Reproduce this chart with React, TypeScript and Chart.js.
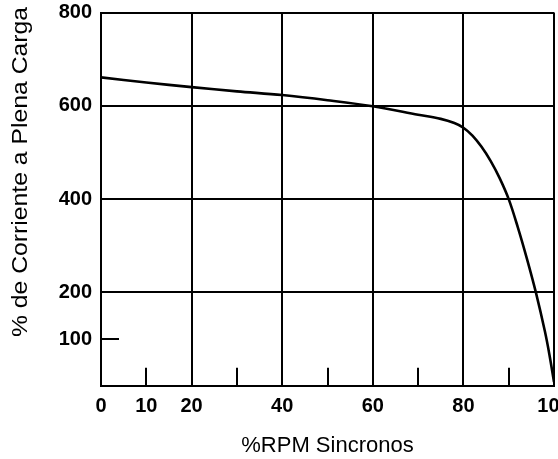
import React, { useEffect, useRef } from "react";
import { Chart, registerables } from "chart.js";

Chart.register(...registerables);

// ---- data ----
const rpm = [0, 10, 20, 30, 40, 50, 60, 70, 75, 78, 80, 82, 84, 86, 88, 90, 92, 94, 96, 98, 99, 100];
const current = [661, 650, 640, 631, 623, 612, 599, 581, 572, 563, 553, 536, 512, 482, 445, 400, 340, 273, 200, 116, 66, 8];

const xTickValues = [0, 10, 20, 40, 60, 80, 100];
const xGridValues = [20, 40, 60, 80, 100];
const xMinorTicks = [10, 30, 50, 70, 90];
const yTickValues = [100, 200, 400, 600, 800];
const yGridValues = [200, 400, 600, 800];
const yMinorTicks = [100];

const xTitle = "%RPM Sincronos";
const yTitle = "% de Corriente a Plena Carga";

const FONT = "'Liberation Sans', Arial, Helvetica, sans-serif";

export default function App() {
  const ref = useRef<HTMLCanvasElement | null>(null);

  useEffect(() => {
    if (!ref.current) return;

    const extras = {
      id: "extras",
      afterDraw(chart: any) {
        const { ctx, chartArea, scales } = chart;
        ctx.save();
        ctx.strokeStyle = "#000";
        ctx.lineWidth = 2;
        ctx.beginPath();
        xMinorTicks.forEach((v) => {
          const x = Math.round(scales.x.getPixelForValue(v));
          ctx.moveTo(x, chartArea.bottom);
          ctx.lineTo(x, chartArea.bottom - 18);
        });
        ctx.stroke();
        ctx.lineWidth = 2;
        ctx.beginPath();
        yMinorTicks.forEach((v) => {
          const y = Math.round(scales.y.getPixelForValue(v));
          ctx.moveTo(chartArea.left, y);
          ctx.lineTo(chartArea.left + 18, y);
        });
        ctx.stroke();

        // y axis title
        ctx.translate(21, 172);
        ctx.rotate(-Math.PI / 2);
        ctx.font = `22px ${FONT}`;
        const w = ctx.measureText(yTitle).width;
        ctx.scale(330 / w, 1);
        ctx.fillStyle = "#000";
        ctx.textAlign = "center";
        ctx.textBaseline = "middle";
        ctx.fillText(yTitle, 0, 0);
        ctx.restore();
      },
    };

    const chart = new Chart(ref.current, {
      type: "line",
      data: {
        datasets: [
          {
            data: rpm.map((x, i) => ({ x, y: current[i] })),
            borderColor: "#000",
            borderWidth: 2.6,
            pointRadius: 0,
            fill: false,
            tension: 0.35,
          },
        ],
      },
      options: {
        animation: false,
        responsive: false,
        devicePixelRatio: 1,
        layout: { padding: { top: 12.5, right: 4, bottom: 0, left: 0 } },
        plugins: { legend: { display: false }, tooltip: { enabled: false } },
        scales: {
          x: {
            type: "linear",
            min: 0,
            max: 100,
            afterBuildTicks: (s: any) => {
              s.ticks = xTickValues.map((v) => ({ value: v }));
            },
            afterFit: (s: any) => {
              s.height = 73.3;
              s.paddingLeft = 0;
              s.paddingRight = 0;
            },
            ticks: {
              autoSkip: false,
              maxRotation: 0,
              padding: 9,
              color: "#000",
              font: { family: FONT, size: 20, weight: "bold" },
            },
            grid: {
              drawTicks: false,
              color: (c: any) => (c.tick && xGridValues.includes(c.tick.value) ? "#000" : "rgba(0,0,0,0)"),
              lineWidth: 2,
            },
            border: { display: true, color: "#000", width: 2 },
            title: {
              display: true,
              text: xTitle,
              color: "#000",
              padding: 0,
              font: { family: FONT, size: 22 },
            },
          },
          y: {
            type: "linear",
            min: 0,
            max: 800,
            afterBuildTicks: (s: any) => {
              s.ticks = yTickValues.map((v) => ({ value: v }));
            },
            afterFit: (s: any) => {
              s.width = 101;
              s.paddingTop = 0;
              s.paddingBottom = 0;
            },
            ticks: {
              autoSkip: false,
              padding: 9,
              color: "#000",
              font: { family: FONT, size: 20, weight: "bold" },
            },
            grid: {
              drawTicks: false,
              color: (c: any) => (c.tick && yGridValues.includes(c.tick.value) ? "#000" : "rgba(0,0,0,0)"),
              lineWidth: 2,
            },
            border: { display: true, color: "#000", width: 2 },
          },
        },
      },
      plugins: [extras],
    } as any);

    return () => chart.destroy();
  }, []);

  return (
    <div
      style={{
        position: "fixed",
        left: 0,
        top: 0,
        width: 558,
        height: 459,
        overflow: "hidden",
        background: "#fff",
      }}
    >
      <canvas ref={ref} width={558} height={459} style={{ display: "block" }} />
    </div>
  );
}
